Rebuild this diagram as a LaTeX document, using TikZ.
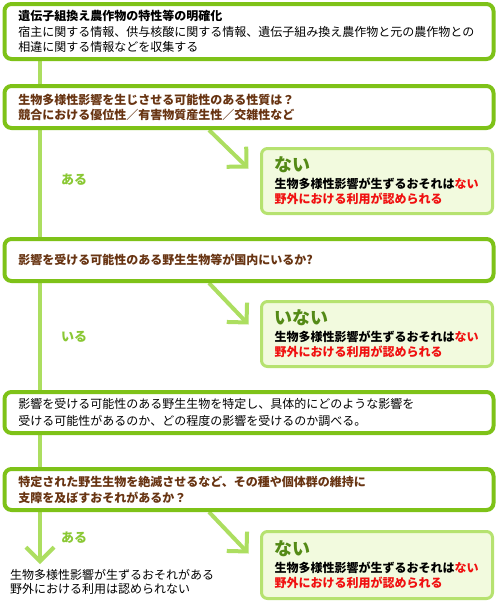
\documentclass[tikz,border=0pt]{standalone}
\usepackage{fontspec}
\setmainfont{Noto Sans CJK JP}
\usepackage{tikz}
\usetikzlibrary{arrows.meta, backgrounds, positioning}
\definecolor{boxgreen}{RGB}{126,194,24}
\definecolor{linegreen}{RGB}{172,222,96}
\definecolor{paleline}{RGB}{182,226,112}
\definecolor{palefill}{RGB}{242,250,222}
\definecolor{askbrown}{RGB}{104,52,18}
\definecolor{olive}{RGB}{84,138,22}
\definecolor{labelgreen}{RGB}{138,200,52}
\definecolor{alertred}{RGB}{240,16,16}
\tikzstyle{question}=[rectangle, rounded corners=7pt, draw=boxgreen, line width=4pt, fill=white, text width=461pt, inner xsep=14pt, align=left, font=\fontsize{12}{15.5}\selectfont]
\tikzstyle{answer}=[rectangle, rounded corners=6pt, draw=paleline, line width=3pt, fill=palefill, text width=205pt, inner xsep=13pt, minimum height=65pt, align=left, font=\bfseries\fontsize{12}{15}\selectfont]
\tikzstyle{trunk}=[draw=linegreen, line width=4pt]
\tikzstyle{flow}=[draw=linegreen, line width=4pt, -{Straight Barb[length=14pt, width=28pt]}]
\tikzstyle{branch}=[text=labelgreen, font=\bfseries\fontsize{13}{13}\selectfont]
\newcommand{\nairesult}[1]{{\fontsize{18}{18}\selectfont\textcolor{olive}{#1}}\\[2pt]生物多様性影響が生ずるおそれは\textcolor{alertred}{ない}\\\textcolor{alertred}{野外における利用が認められる}}

\begin{document}
\begin{tikzpicture}[x=1pt, y=-1pt]
          \useasboundingbox (0,0) rectangle (498,606);
          \coordinate (axis) at (40,0);

          % steps along the left trunk
          \node[question, minimum height=55pt] (info) at (249,31.5)
                {\textbf{遺伝子組換え農作物の特性等の明確化}\\宿主に関する情報、供与核酸に関する情報、遺伝子組み換え農作物と元の農作物との\\相違に関する情報などを収集する};
          \node[question, minimum height=42pt, text=askbrown, font=\bfseries\fontsize{12}{15}\selectfont] (trait) at (249,107)
                {生物多様性影響を生じさせる可能性のある性質は？\\競合における優位性／有害物質産生性／交雑性など};
          \node[question, minimum height=42pt, text=askbrown, font=\bfseries\fontsize{12}{15}\selectfont] (wild) at (249,260)
                {影響を受ける可能性のある野生生物等が国内にいるか?};
          \node[question, minimum height=41pt, font=\fontsize{12}{17}\selectfont] (survey) at (249,412.5)
                {影響を受ける可能性のある野生生物を特定し、具体的にどのような影響を\\受ける可能性があるのか、どの程度の影響を受けるのか調べる。};
          \node[question, minimum height=41pt, text=askbrown, font=\bfseries\fontsize{12}{16}\selectfont] (extinct) at (249,489.5)
                {特定された野生生物を絶滅させるなど、その種や個体群の維持に\\支障を及ぼすおそれがあるか？};

          % answers on the right
          \node[answer] (nai1) at (377,181) {\nairesult{ない}};
          \node[answer] (nai2) at (377,334) {\nairesult{いない}};
          \node[answer, minimum height=67pt] (nai3) at (377,565) {\nairesult{ない}};

          \node[anchor=north west, inner sep=0pt, align=left, font=\fontsize{12}{14}\selectfont] (verdict) at (10,569)
                {生物多様性影響が生ずるおそれがある\\野外における利用は認められない};

          \node[branch] (yes1) at (74,180) {ある};
          \node[branch] (yes2) at (74,337) {いる};
          \node[branch] (yes3) at (74,538) {ある};

          \begin{scope}[on background layer]
                \fill[white] (0,0) rectangle (498,606);
                \draw[trunk] (info.south -| axis) -- (trait.north -| axis);
                \draw[trunk] (trait.south -| axis) -- (wild.north -| axis);
                \draw[trunk] (wild.south -| axis) -- (survey.north -| axis);
                \draw[trunk] (survey.south -| axis) -- (extinct.north -| axis);
                \draw[flow, shorten >=5pt] (extinct.south -| axis) -- (verdict.north -| axis);
                \draw[flow] ([xshift=-40pt]trait.south) -- ([xshift=-11.5pt, yshift=-21.5pt]nai1.north west);
                \draw[flow] ([xshift=-40pt]wild.south) -- ([xshift=-11.5pt, yshift=-24.5pt]nai2.north west);
                \draw[flow] ([xshift=-40pt]extinct.south) -- ([xshift=-11.5pt, yshift=-23.5pt]nai3.north west);
          \end{scope}
\end{tikzpicture}
\end{document}
